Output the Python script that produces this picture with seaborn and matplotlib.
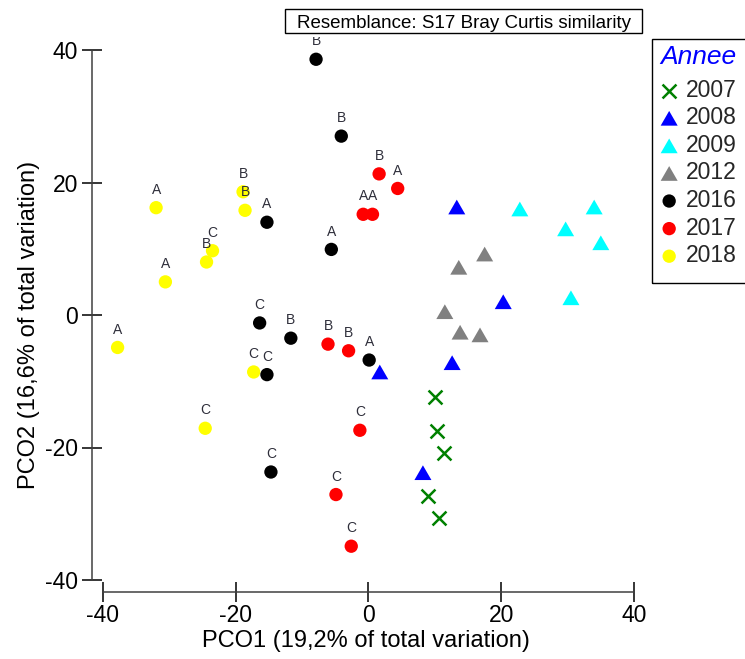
import numpy as np
import pandas as pd
import seaborn as sns
import matplotlib.pyplot as plt
from matplotlib.patches import Rectangle

# ---------------- data ----------------
years = ["2007", "2008", "2009", "2012", "2016", "2017", "2018"]

x_2007 = [10.0, 10.3, 11.4, 9.0, 10.6]
y_2007 = [-12.4, -17.5, -20.8, -27.3, -30.6]

x_2008 = [13.3, 20.3, 1.7, 12.6, 8.2]
y_2008 = [16.3, 2.0, -8.6, -7.2, -23.8]

x_2009 = [22.8, 34.0, 29.7, 35.0, 30.5]
y_2009 = [16.0, 16.3, 13.0, 10.9, 2.6]

x_2012 = [17.5, 13.6, 11.5, 13.8, 16.8]
y_2012 = [9.2, 7.2, 0.5, -2.6, -3.0]

x_2016 = [-7.9, -4.1, -15.3, -5.6, -16.4, -11.7, 0.1, -15.3, -14.7]
y_2016 = [38.6, 27.0, 14.0, 9.9, -1.2, -3.5, -6.8, -9.0, -23.7]
lab_2016 = ["B", "B", "A", "A", "C", "B", "A", "C", "C"]

x_2017 = [1.6, 4.4, -0.8, 0.6, -6.1, -3.0, -1.3, -4.9, -2.6]
y_2017 = [21.3, 19.1, 15.2, 15.2, -4.4, -5.4, -17.4, -27.1, -34.9]
lab_2017 = ["B", "A", "A", "A", "B", "B", "C", "C", "C"]

x_2018 = [-32.0, -18.9, -18.6, -23.5, -24.4, -30.6, -37.8, -17.3, -24.6]
y_2018 = [16.2, 18.6, 15.8, 9.7, 8.0, 5.0, -4.9, -8.6, -17.1]
lab_2018 = ["A", "B", "B", "C", "B", "A", "A", "C", "C"]

ticks = [-40, -20, 0, 20, 40]
xlabel = "PCO1 (19,2% of total variation)"
ylabel = "PCO2 (16,6% of total variation)"
title_box = "Resemblance: S17 Bray Curtis similarity"
legend_title = "Annee"

# ---------------- table ----------------
series = {
    "2007": (x_2007, y_2007, [""] * len(x_2007)),
    "2008": (x_2008, y_2008, [""] * len(x_2008)),
    "2009": (x_2009, y_2009, [""] * len(x_2009)),
    "2012": (x_2012, y_2012, [""] * len(x_2012)),
    "2016": (x_2016, y_2016, lab_2016),
    "2017": (x_2017, y_2017, lab_2017),
    "2018": (x_2018, y_2018, lab_2018),
}
rows = []
for yr, (xs, ys, ls) in series.items():
    for a, b, l in zip(xs, ys, ls):
        rows.append({"PCO1": a, "PCO2": b, "Annee": yr, "lab": l})
df = pd.DataFrame(rows)

# ---------------- style ----------------
sns.set_theme(style="white")
plt.rcParams["font.family"] = ["Liberation Sans", "DejaVu Sans"]

tri = [(-1, -0.866), (1, -0.866), (0, 0.866)]
colors = {"2007": "#008000", "2008": "#0000FF", "2009": "#00FFFF",
          "2012": "#808080", "2016": "#000000", "2017": "#FF0000",
          "2018": "#FFFF00"}
markers = {"2007": "x", "2008": tri, "2009": tri, "2012": tri,
           "2016": "o", "2017": "o", "2018": "o"}
sizes = {"2007": 100, "2008": 150, "2009": 150, "2012": 150,
         "2016": 92, "2017": 92, "2018": 92}

fig = plt.figure(figsize=(7.45, 6.59), dpi=100)
ax = fig.add_axes([92 / 745, 67 / 659, 548 / 745, 555 / 659])

draw_order = ["2018", "2017", "2016", "2012", "2009", "2008", "2007"]
for yr in draw_order:
    sub = df[df["Annee"] == yr]
    if markers[yr] == "x":
        sns.scatterplot(data=sub, x="PCO1", y="PCO2", color=colors[yr],
                        marker="x", s=sizes[yr], linewidth=1.8,
                        ax=ax, label=yr, zorder=3)
    else:
        sns.scatterplot(data=sub, x="PCO1", y="PCO2", color=colors[yr],
                        marker=markers[yr], s=sizes[yr], linewidth=0,
                        edgecolor="none", ax=ax, label=yr, zorder=3)

for _, r in df[df["lab"] != ""].iterrows():
    ax.annotate(r["lab"], (r["PCO1"], r["PCO2"]), xytext=(0, 10),
                textcoords="offset points", ha="center", va="baseline",
                fontsize=10, color="#2e2e3a", clip_on=True, zorder=5)

ax.set_xlim(-40 - 11 / 6.64, 40 + 6 / 6.64)
ax.set_ylim(-40 - 12 / 6.625, 40 + 13 / 6.625)
ax.set_xticks(ticks)
ax.set_yticks(ticks)
ax.set_xticklabels([str(t) for t in ticks])
ax.set_yticklabels([str(t) for t in ticks])

for s in ["top", "right"]:
    ax.spines[s].set_visible(False)
for s in ["left", "bottom"]:
    ax.spines[s].set_bounds(-40, 40)
    ax.spines[s].set_color("#404040")
    ax.spines[s].set_linewidth(1.1)
ax.tick_params(axis="both", direction="inout", length=15, width=1.1,
               color="black", labelsize=16.5, labelcolor="black",
               bottom=True, left=True, top=False, right=False)
ax.tick_params(axis="x", pad=1.5)
ax.tick_params(axis="y", pad=2.6)

ax.set_xlabel(xlabel, fontsize=17, color="black")
ax.set_ylabel(ylabel, fontsize=17, color="black")
ax.xaxis.set_label_coords(0.5, (592 - 630) / 555)
ax.yaxis.set_label_coords((40 - 92) / 548, (592 - 325) / 555)

# legend
h, l = ax.get_legend_handles_labels()
hd = dict(zip(l, h))
ax.get_legend().remove()
leg = fig.legend([hd[y] for y in years], years, loc="upper left",
                 bbox_to_anchor=(660 / 745, 1 - 45 / 659),
                 bbox_transform=fig.transFigure, frameon=False,
                 title=legend_title,
                 title_fontproperties={"style": "italic", "size": 19},
                 fontsize=16.5, borderaxespad=0, handlelength=0.8,
                 handletextpad=0.35, labelspacing=0.2, borderpad=0,
                 alignment="left")
leg.get_title().set_color("#0000FF")
leg._legend_box.sep = 7

fig.patches.append(Rectangle((652 / 745, 1 - 283 / 659), 110 / 745, 244 / 659,
                             transform=fig.transFigure, fill=False,
                             edgecolor="black", linewidth=1.0, zorder=9))

# resemblance box
fig.patches.append(Rectangle((285 / 745, 1 - 33.3 / 659), 357 / 745, 24 / 659,
                             transform=fig.transFigure, fill=True,
                             facecolor="white", edgecolor="black",
                             linewidth=1.0, zorder=10))
fig.text(464 / 745, 1 - 28.3 / 659, title_box, ha="center", va="baseline",
         fontsize=13.5, color="black", zorder=11)

fig.savefig("out.png", dpi=100)
